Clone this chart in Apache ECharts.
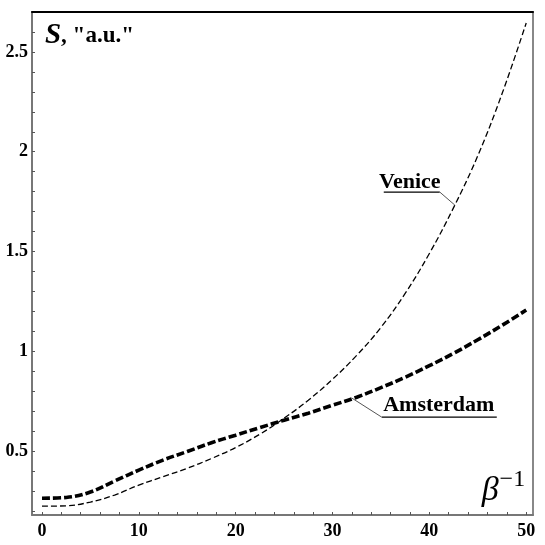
<!DOCTYPE html>
<html>
<head>
<meta charset="utf-8">
<script src="https://cdn.jsdelivr.net/npm/echarts@6/dist/echarts.min.js"></script>
<style>html,body{margin:0;padding:0;background:#fff}#c{width:545px;height:545px}</style>
</head>
<body>
<div id="c"></div>
<script>
// x values (beta^-1)
var xs = [0, 2.5, 5, 7.5, 10, 12.5, 15, 17.5, 20, 22.5, 25, 27.5, 30, 32.5, 35, 37.5, 40, 42.5, 45, 47.5, 50];
// S values
var venice = [0.224, 0.226, 0.245, 0.28, 0.33, 0.372, 0.414, 0.463, 0.518, 0.585, 0.665, 0.755, 0.86, 0.98, 1.12, 1.29, 1.49, 1.72, 1.98, 2.29, 2.645];
var amsterdam = [0.264, 0.268, 0.295, 0.35, 0.405, 0.455, 0.498, 0.542, 0.58, 0.618, 0.655, 0.69, 0.73, 0.77, 0.818, 0.87, 0.928, 0.99, 1.058, 1.13, 1.207];
var xTickLabels = [0, 10, 20, 30, 40, 50];
var yTickLabels = [0.5, 1, 1.5, 2, 2.5];
var xMinorTicks = [0,2,4,6,8,10,12,14,16,18,20,22,24,26,28,30,32,34,36,38,40,42,44,46,48,50];
var yMinorTicks = [0.2,0.3,0.4,0.5,0.6,0.7,0.8,0.9,1.0,1.1,1.2,1.3,1.4,1.5,1.6,1.7,1.8,1.9,2.0,2.1,2.2,2.3,2.4,2.5,2.6];
// annotation anchors in data coordinates
var veniceLabel = {text: [37.98, 1.848], under: [[35.29, 1.798], [41.07, 1.798]], leader: [[41.07, 1.798], [42.62, 1.733]]};
var amsLabel = {text: [40.97, 0.728], under: [[35.09, 0.670], [46.96, 0.670]], leader: [[35.09, 0.670], [31.99, 0.766]]};
var sLabelPos = [0.31, 2.58];
var betaPos = [45.4, 0.30];

var font = '"Liberation Serif", "Times New Roman", serif';
var chart = echarts.init(document.getElementById('c'), null, {renderer: 'canvas'});
function pairs(ys){ return xs.map(function(x,i){return [x, ys[i]];}); }
var option = {
  animation: false,
  backgroundColor: '#fff',
  grid: {left: 32, right: 12, top: 12, bottom: 30, containLabel: false},
  xAxis: [{
    type: 'value', min: -1.03, max: 50.7, position: 'bottom',
    axisLine: {show: true, onZero: false, lineStyle: {color: '#777', width: 2}},
    axisTick: {show: true, inside: true, length: 3, customValues: xMinorTicks, lineStyle: {color: '#555', width: 1}},
    axisLabel: {customValues: xTickLabels, fontFamily: font, fontWeight: 'bold', fontSize: 18, color: '#000', margin: 7},
    splitLine: {show: false}
  }, {
    type: 'value', min: -1.03, max: 50.7, position: 'top',
    axisLine: {show: true, onZero: false, lineStyle: {color: '#000', width: 2}},
    axisTick: {show: false}, axisLabel: {show: false}, splitLine: {show: false}
  }],
  yAxis: [{
    type: 'value', min: 0.18, max: 2.70, position: 'left',
    axisLine: {show: true, onZero: false, lineStyle: {color: '#777', width: 2}},
    axisTick: {show: true, inside: true, length: 3, customValues: yMinorTicks, lineStyle: {color: '#555', width: 1}},
    axisLabel: {customValues: yTickLabels, fontFamily: font, fontWeight: 'bold', fontSize: 18, color: '#000', margin: 4},
    splitLine: {show: false}
  }, {
    type: 'value', min: 0.18, max: 2.70, position: 'right',
    axisLine: {show: true, onZero: false, lineStyle: {color: '#888', width: 2}},
    axisTick: {show: false}, axisLabel: {show: false}, splitLine: {show: false}
  }],
  series: [{
    name: 'Venice', type: 'line', data: pairs(venice), smooth: 0.4, showSymbol: false,
    lineStyle: {color: '#000', width: 1.3, type: [6, 3]}
  }, {
    name: 'Amsterdam', type: 'line', data: pairs(amsterdam), smooth: 0.4, showSymbol: false,
    lineStyle: {color: '#000', width: 3.6, type: [8, 3]}
  }]
};
chart.setOption(option);

function px(p){ return chart.convertToPixel({xAxisIndex: 0, yAxisIndex: 0}, p); }
function seg(a, b, color, w){
  var p1 = px(a), p2 = px(b);
  return {type: 'line', shape: {x1: p1[0], y1: p1[1], x2: p2[0], y2: p2[1]}, style: {stroke: color, lineWidth: w}, z: 10};
}
var g = [];
[[veniceLabel, 'Venice'], [amsLabel, 'Amsterdam']].forEach(function(item){
  var L = item[0], t = px(L.text);
  g.push({type: 'text', x: t[0], y: t[1], style: {text: item[1], font: 'bold 22px ' + font, fill: '#000', align: 'center', verticalAlign: 'middle'}, z: 10});
  g.push(seg(L.under[0], L.under[1], '#000', 1.3));
  g.push(seg(L.leader[0], L.leader[1], '#555', 1));
});
var sp = px(sLabelPos);
g.push({type: 'text', x: sp[0], y: sp[1], style: {
  text: '{s|S}{r|, "a.u."}',
  align: 'left', verticalAlign: 'middle',
  rich: {
    s: {fontFamily: font, fontStyle: 'italic', fontWeight: 'bold', fontSize: 29, fill: '#000'},
    r: {fontFamily: font, fontWeight: 'bold', fontSize: 23, fill: '#000'}
  }}, z: 10});
var bp = px(betaPos);
g.push({type: 'text', x: bp[0], y: bp[1], style: {
  text: '{b|β}{sup|−1}', align: 'left', verticalAlign: 'middle',
  rich: {
    b: {fontFamily: font, fontStyle: 'italic', fontSize: 34, fill: '#000'},
    sup: {fontFamily: font, fontSize: 24, fill: '#000', verticalAlign: 'top', padding: [0, 0, 22, 1]}
  }}, z: 10});
chart.setOption({graphic: g});
</script>
</body>
</html>
